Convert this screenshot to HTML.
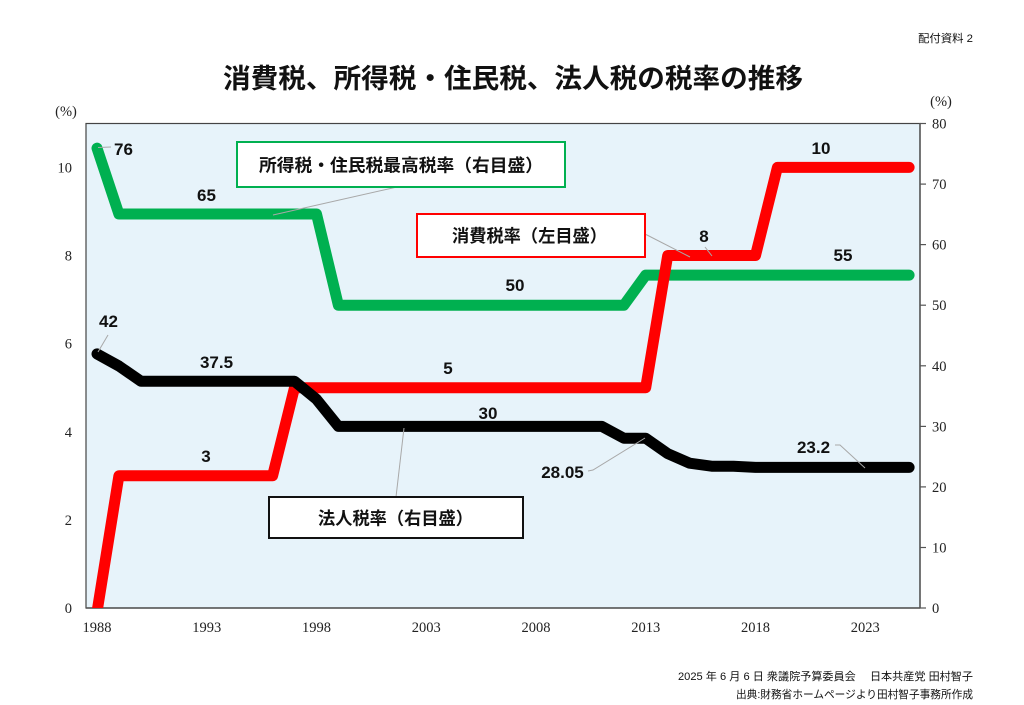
<!DOCTYPE html>
<html>
<head>
<meta charset="utf-8">
<style>
html,body{margin:0;padding:0;background:#fff;}
svg{display:block;}
.ax{font-family:"Liberation Serif","Noto Serif CJK SC",serif;font-size:14.5px;fill:#222;}
.num{font-family:"Liberation Sans","Noto Sans CJK JP",sans-serif;font-size:17px;font-weight:bold;fill:#111;}
.jp{font-family:"Liberation Sans","Noto Sans CJK JP",sans-serif;font-weight:bold;fill:#111;}
.sm{font-family:"Liberation Sans","Noto Sans CJK JP",sans-serif;font-size:11px;fill:#111;}
</style>
</head>
<body>
<svg width="1024" height="705" viewBox="0 0 1024 705" xmlns="http://www.w3.org/2000/svg">
<defs>
<clipPath id="pc"><rect x="86" y="123.5" width="834" height="484.5"/></clipPath>
</defs>
<rect x="0" y="0" width="1024" height="705" fill="#fff"/>

<!-- header -->
<text class="sm" x="973" y="42" text-anchor="end" textLength="55" lengthAdjust="spacingAndGlyphs">配付資料 2</text>
<text class="jp" x="223" y="88" font-size="27" textLength="580" lengthAdjust="spacingAndGlyphs">消費税、所得税・住民税、法人税の税率の推移</text>

<!-- plot area -->
<rect x="86" y="123.5" width="834" height="484.5" fill="#e7f3fa" stroke="#444" stroke-width="1.2"/>
<line x1="920" y1="123" x2="920" y2="608" stroke="#555" stroke-width="1.5"/>
<line x1="86" y1="608" x2="920" y2="608" stroke="#555" stroke-width="1.5"/>
<g stroke="#555" stroke-width="1.2">
<line x1="920" y1="123.5" x2="926" y2="123.5"/>
<line x1="920" y1="184.1" x2="926" y2="184.1"/>
<line x1="920" y1="244.6" x2="926" y2="244.6"/>
<line x1="920" y1="305.2" x2="926" y2="305.2"/>
<line x1="920" y1="365.8" x2="926" y2="365.8"/>
<line x1="920" y1="426.4" x2="926" y2="426.4"/>
<line x1="920" y1="486.9" x2="926" y2="486.9"/>
<line x1="920" y1="547.5" x2="926" y2="547.5"/>
<line x1="920" y1="608" x2="926" y2="608"/>
</g>

<!-- axis labels -->
<text class="ax" x="66" y="116" text-anchor="middle" font-size="13">(%)</text>
<text class="ax" x="941" y="106" text-anchor="middle" font-size="13">(%)</text>
<g class="ax" text-anchor="end">
<text x="72" y="172.5">10</text>
<text x="72" y="260.5">8</text>
<text x="72" y="348.6">6</text>
<text x="72" y="436.8">4</text>
<text x="72" y="524.9">2</text>
<text x="72" y="613">0</text>
</g>
<g class="ax" text-anchor="start">
<text x="932" y="128.5">80</text>
<text x="932" y="189.1">70</text>
<text x="932" y="249.6">60</text>
<text x="932" y="310.2">50</text>
<text x="932" y="370.8">40</text>
<text x="932" y="431.4">30</text>
<text x="932" y="491.9">20</text>
<text x="932" y="552.5">10</text>
<text x="932" y="613">0</text>
</g>
<g class="ax" text-anchor="middle">
<text x="97" y="632">1988</text>
<text x="206.7" y="632">1993</text>
<text x="316.5" y="632">1998</text>
<text x="426.2" y="632">2003</text>
<text x="536" y="632">2008</text>
<text x="645.7" y="632">2013</text>
<text x="755.5" y="632">2018</text>
<text x="865.2" y="632">2023</text>
</g>

<!-- series -->
<g clip-path="url(#pc)" fill="none" stroke-linecap="round" stroke-linejoin="round" stroke-width="11">
<polyline stroke="#00b050" points="97,148.2 118.9,214 316.5,214 338.4,305.3 623.8,305.3 645.7,275.1 909.1,275.1"/>
<polyline stroke="#ff0000" points="97,612 118.9,475.8 272.6,475.8 294.5,387.7 645.7,387.7 667.7,255.5 755.5,255.5 777.4,167.4 909.1,167.4"/>
<polyline stroke="#000" points="97,353.9 118.9,366 140.9,381.2 294.5,381.2 316.5,399.3 338.4,426.4 601.8,426.4 623.8,438.2 645.7,438.2 667.7,453.6 689.6,463.2 711.6,466.2 733.5,466.2 755.5,467.4 909.1,467.4"/>
</g>

<!-- leader lines -->
<g stroke="#a8a8a8" stroke-width="1" fill="none">
<line x1="98" y1="147.5" x2="111" y2="147"/>
<line x1="397" y1="187" x2="273" y2="215"/>
<line x1="646" y1="234.5" x2="690" y2="257"/>
<line x1="705" y1="247" x2="712" y2="256"/>
<line x1="108" y1="335" x2="98" y2="352"/>
<line x1="396" y1="497" x2="404" y2="428"/>
<polyline points="588,471 593,470 645,438"/>
<polyline points="835,445 840,445 865,468"/>
</g>

<!-- legend boxes -->
<rect x="237" y="142" width="328" height="45" fill="#fff" stroke="#00b050" stroke-width="2"/>
<text class="jp" x="259" y="171.5" font-size="17.5" textLength="284" lengthAdjust="spacingAndGlyphs">所得税・住民税最高税率（右目盛）</text>
<rect x="417" y="214" width="228" height="43" fill="#fff" stroke="#ff0000" stroke-width="2"/>
<text class="jp" x="452" y="242" font-size="17.5" textLength="155" lengthAdjust="spacingAndGlyphs">消費税率（左目盛）</text>
<rect x="269" y="497" width="254" height="41" fill="#fff" stroke="#111" stroke-width="2"/>
<text class="jp" x="318" y="524.5" font-size="17.5" textLength="155" lengthAdjust="spacingAndGlyphs">法人税率（右目盛）</text>

<!-- data labels -->
<g class="num" text-anchor="middle">
<text x="123.5" y="155">76</text>
<text x="206.5" y="201">65</text>
<text x="515" y="291">50</text>
<text x="843" y="261">55</text>
<text x="704" y="242">8</text>
<text x="821" y="154">10</text>
<text x="108.5" y="327">42</text>
<text x="216.5" y="368">37.5</text>
<text x="206" y="462">3</text>
<text x="448" y="374">5</text>
<text x="488" y="419">30</text>
<text x="562.5" y="478">28.05</text>
<text x="813.5" y="453">23.2</text>
</g>

<!-- footer -->
<text class="sm" x="973" y="680" text-anchor="end" textLength="295" lengthAdjust="spacingAndGlyphs">2025 年 6 月 6 日  衆議院予算委員会　 日本共産党  田村智子</text>
<text class="sm" x="973" y="698" text-anchor="end" textLength="237" lengthAdjust="spacingAndGlyphs">出典:財務省ホームページより田村智子事務所作成</text>
</svg>
</body>
</html>
